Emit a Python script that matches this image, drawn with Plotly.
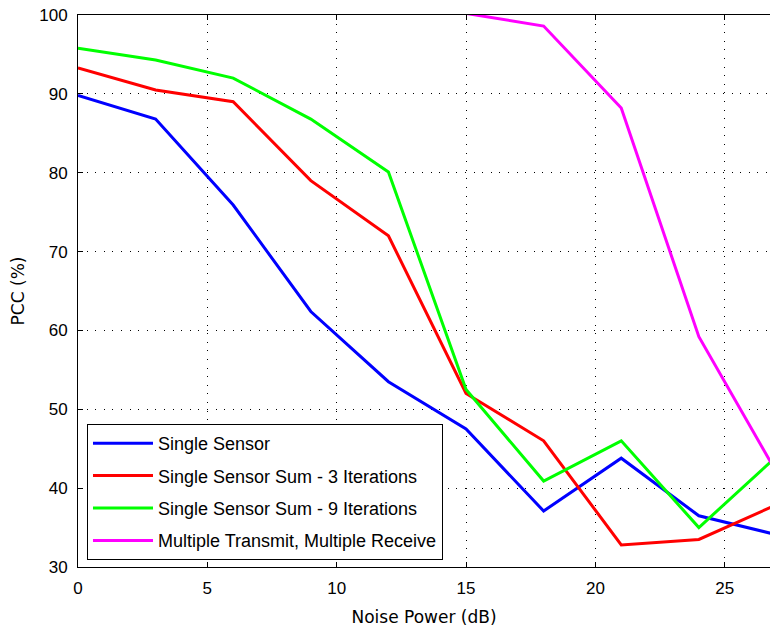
import plotly.graph_objects as go

noise_db = [0, 3, 6, 9, 12, 15, 18, 21, 24, 27]
single_sensor = [89.8, 86.8, 75.9, 62.4, 53.5, 47.5, 37.1, 43.8, 36.5, 34.1]
sum_3_iter = [93.3, 90.5, 89.0, 79.0, 72.0, 52.0, 46.0, 32.8, 33.5, 37.9]
sum_9_iter = [95.8, 94.3, 92.0, 86.8, 80.1, 52.5, 40.9, 46.0, 35.0, 44.0]
mimo_x = [15, 18, 21, 24, 27]
mimo = [100.2, 98.6, 88.2, 59.2, 42.0]

names = ["Single Sensor", "Single Sensor Sum - 3 Iterations",
         "Single Sensor Sum - 9 Iterations", "Multiple Transmit, Multiple Receive"]
colors = ["#0000FF", "#FF0000", "#00FF00", "#FF00FF"]

fig = go.Figure()
series = [(noise_db, single_sensor), (noise_db, sum_3_iter), (noise_db, sum_9_iter), (mimo_x, mimo)]
for i, ((xs, ys), nm, c) in enumerate(zip(series, names, colors)):
    fig.add_trace(go.Scatter(x=xs, y=ys, mode="lines", name=nm,
                             line=dict(color=c, width=3), legendgroup=f"g{i}"))

sans = "Liberation Sans, Arial, sans-serif"
title_font = dict(family="DejaVu Sans, sans-serif", size=17, color="black")
fig.update_layout(
    width=770, height=630,
    margin=dict(l=78, r=0, t=15, b=63),
    plot_bgcolor="white", paper_bgcolor="white",
    font=dict(family=sans, size=17, color="black"),
    showlegend=True,
    legend=dict(x=0.013, y=0.0127, xanchor="left", yanchor="bottom",
                bgcolor="white", bordercolor="black", borderwidth=1,
                font=dict(family=sans, size=18, color="black"),
                traceorder="grouped", tracegroupgap=6, itemwidth=60),
)
fig.update_xaxes(range=[0, 26.75], tickvals=[0, 5, 10, 15, 20, 25],
                 ticks="inside", ticklen=5, tickcolor="black",
                 showline=True, linecolor="black", linewidth=1, mirror="ticks",
                 showgrid=True, gridcolor="black", gridwidth=1, griddash="1px,7.6px",
                 zeroline=False, ticklabelstandoff=6,
                 title=dict(text="Noise Power (dB)", font=title_font, standoff=13),
                 tickfont=dict(family=sans, size=17))
fig.update_yaxes(range=[30, 100], tickvals=[30, 40, 50, 60, 70, 80, 90, 100],
                 ticks="inside", ticklen=5, tickcolor="black",
                 showline=True, linecolor="black", linewidth=1,
                 showgrid=True, gridcolor="black", gridwidth=1, griddash="1px,7.6px",
                 zeroline=False, ticklabelstandoff=6,
                 title=dict(text="PCC (%)", font=title_font, standoff=10),
                 tickfont=dict(family=sans, size=17))
fig.write_html("out.html")
